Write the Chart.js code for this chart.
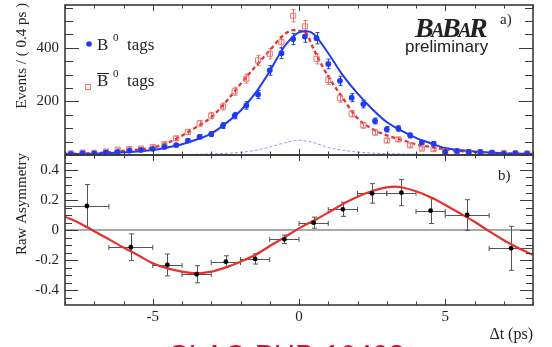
<!DOCTYPE html>
<html><head><meta charset="utf-8">
<script src="https://cdn.jsdelivr.net/npm/chart.js@4.4.0/dist/chart.umd.min.js"></script>
<style>
html,body{margin:0;padding:0;background:#fff;width:552px;height:347px;overflow:hidden;position:relative}
canvas{position:absolute;left:0}
#c1{top:0}
#c2{top:150px}
</style></head><body>
<canvas id="c1" width="552" height="160"></canvas>
<canvas id="c2" width="552" height="197"></canvas>
<script>
// ---------- data ----------
const binCenters = [-7.8,-7.4,-7.0,-6.6,-6.2,-5.8,-5.4,-5.0,-4.6,-4.2,-3.8,-3.4,-3.0,-2.6,-2.2,-1.8,-1.4,-1.0,-0.6,-0.2,0.2,0.6,1.0,1.4,1.8,2.2,2.6,3.0,3.4,3.8,4.2,4.6,5.0,5.4,5.8,6.2,6.6,7.0,7.4,7.8];
const blueTags = [4,7,6,10,12,16,19,23,30,37,54,68,78,110,147,185,226,316,380,433,442,436,340,277,214,190,127,96,99,73,47,42,12,15,12,12,9,5,7,5];
const blueErr  = [2,3,3,3,4,4,4,5,6,6,7,8,9,11,12,14,15,18,20,21,21,21,18,17,15,14,11,10,10,9,7,7,4,4,4,4,3,2,3,2];
const redTags  = [6,9,8,13,20,22,24,30,40,62,86,118,147,181,238,285,353,378,421,520,480,359,280,212,154,111,84,54,58,36,24,22,12,14,11,10,8,8,6,6];
const redErr   = [3,3,3,4,5,5,5,6,6,8,9,11,12,13,15,17,19,19,21,23,22,19,17,15,12,11,9,7,8,6,5,5,4,4,3,3,3,3,3,3];

const blueFitT = [-8,-7,-6,-5,-4.5,-4,-3.5,-3,-2.5,-2,-1.5,-1,-0.5,0,0.25,0.5,1,1.5,2,2.5,3,3.5,4,4.5,5,6,7,8];
const blueFit  = [3,5,10,19,28,40,58,80,118,165,230,313,405,458,462,452,380,297,230,172,123,91,64,44,26,13,7,4];
const redFitT  = [-8,-7,-6,-5,-4.5,-4,-3.5,-3,-2.5,-2,-1.5,-1,-0.5,-0.2,0,0.25,0.5,1,1.5,2,2.5,3,3.5,4,4.5,5,6,7,8];
const redFit   = [4,7,15,28,45,72,105,141,198,265,329,391,450,466,464,454,395,293,212,137,98,73,57,40,30,21,11,6,4];
const bkgT     = [-8,-5,-4,-3,-2,-1.5,-1,-0.5,0,0.5,1,1.5,2,3,4,5,8];
const bkg      = [0,1,2,4,10,17,30,45,55,46,28,18,11,5,3,1,0];

const asymT    = [-7.25,-5.75,-4.5,-3.5,-2.5,-1.5,-0.5,0.5,1.5,2.5,3.5,4.5,5.75,7.25];
const asymHalfW= [0.75,0.75,0.5,0.5,0.5,0.5,0.5,0.5,0.5,0.5,0.5,0.5,0.75,0.75];
const asym     = [0.16,-0.115,-0.233,-0.295,-0.211,-0.193,-0.062,0.049,0.138,0.244,0.249,0.129,0.10,-0.122];
const asymErr  = [0.143,0.089,0.073,0.057,0.039,0.034,0.028,0.037,0.047,0.065,0.087,0.086,0.102,0.147];
const asymFitT = [-8,-7.5,-7,-6.5,-6,-5.5,-5,-4.5,-4,-3.5,-3,-2.5,-2,-1.5,-1,-0.5,0,0.5,1,1.5,2,2.5,3,3.3,3.5,4,4.5,5,5.5,6,6.5,7,7.5,8];
const asymFit  = [0.089,0.045,-0.008,-0.062,-0.117,-0.168,-0.222,-0.256,-0.278,-0.289,-0.278,-0.249,-0.211,-0.167,-0.107,-0.049,0.011,0.062,0.116,0.173,0.222,0.260,0.284,0.289,0.285,0.258,0.218,0.167,0.112,0.055,-0.008,-0.068,-0.120,-0.167];
const zeroLineT = [-8,8];
const zeroLineV = [0,0];

const xTickLabels = [-5,0,5];
const topYTicks = [200,400];
const asymYTicks = [-0.4,-0.2,0,0.2,0.4];

// ---------- styles ----------
const SERIF = "'Liberation Serif','DejaVu Serif',serif";
const SANS = "'Liberation Sans','DejaVu Sans',sans-serif";
const BLUE = '#1f3cf2', RED = '#e8302c', PINK = '#f07272', PURPLE = '#b68be6', INK = '#222';
const OY = 150;

const pts = (xs, ys) => xs.map((x,i)=>({x, y: ys[i]}));

function vErr(ctx, xs, ys, tx, v, e, color, cap){
  ctx.strokeStyle = color; ctx.lineWidth = 1; ctx.beginPath();
  tx.forEach((t,i)=>{
    const px = Math.round(xs.getPixelForValue(t))+0.5;
    const y1 = ys.getPixelForValue(v[i]-e[i]), y2 = ys.getPixelForValue(v[i]+e[i]);
    ctx.moveTo(px,y1); ctx.lineTo(px,y2);
    ctx.moveTo(px-cap,y1); ctx.lineTo(px+cap,y1);
    ctx.moveTo(px-cap,y2); ctx.lineTo(px+cap,y2);
  });
  ctx.stroke();
}

function frame(ctx, a, xs, ys, majors, minors, majLen, minLen){
  ctx.save(); ctx.strokeStyle = '#3a3a3a'; ctx.lineWidth = 1; ctx.beginPath();
  for (let t=-8; t<=8; t++){
    const p = Math.round(xs.getPixelForValue(t))+0.5, len = (t%5===0)?6:3.5;
    ctx.moveTo(p,a.bottom); ctx.lineTo(p,a.bottom-len);
    ctx.moveTo(p,a.top); ctx.lineTo(p,a.top+len);
  }
  minors.forEach(v=>{ const p=Math.round(ys.getPixelForValue(v))+0.5;
    ctx.moveTo(a.left,p); ctx.lineTo(a.left+minLen,p); ctx.moveTo(a.right,p); ctx.lineTo(a.right-minLen,p); });
  majors.forEach(v=>{ const p=Math.round(ys.getPixelForValue(v))+0.5;
    ctx.moveTo(a.left,p); ctx.lineTo(a.left+majLen,p); ctx.moveTo(a.right,p); ctx.lineTo(a.right-majLen,p); });
  ctx.stroke();
  ctx.lineWidth = 1.6; ctx.strokeRect(a.left, a.top, a.right-a.left, a.bottom-a.top);
  ctx.restore();
}

function clipArea(ctx,a){ ctx.beginPath(); ctx.rect(a.left,a.top,a.right-a.left,a.bottom-a.top); ctx.clip(); }

function yTitle(ctx, text, x, yEnd){
  ctx.save(); ctx.translate(x, yEnd); ctx.rotate(-Math.PI/2);
  ctx.font = '15px '+SERIF; ctx.fillStyle = INK; ctx.textAlign='right'; ctx.textBaseline='alphabetic';
  ctx.fillText(text, 0, 0); ctx.restore();
}

Chart.defaults.font.family = SERIF;
Chart.defaults.color = INK;

const topPlugin = {
  id:'topDeco',
  beforeDatasetsDraw(chart){
    const {ctx, chartArea:a, scales:{x,y}} = chart;
    ctx.save(); clipArea(ctx,a);
    vErr(ctx,x,y,binCenters,redTags,redErr,PINK,2);
    vErr(ctx,x,y,binCenters,blueTags,blueErr,BLUE,2);
    ctx.restore();
  },
  afterDraw(chart){
    const {ctx, chartArea:a, scales:{x,y}} = chart;
    const minors=[]; for(let v=50; v<560; v+=50) if (v%200) minors.push(v);
    frame(ctx,a,x,y,[0,200,400],minors,14,8);
    yTitle(ctx,'Events / ( 0.4 ps )',26,3);
    ctx.save();
    ctx.fillStyle = INK;
    // legend
    ctx.fillStyle = BLUE; ctx.beginPath(); ctx.arc(89,44,2.8,0,Math.PI*2); ctx.fill();
    ctx.strokeStyle = PINK; ctx.lineWidth=1; ctx.strokeRect(85.5,84.5,5,5);
    ctx.fillStyle = INK; ctx.textBaseline='alphabetic'; ctx.textAlign='left';
    ctx.font = '17px '+SERIF;
    ctx.fillText('B',97,50); ctx.fillText('tags',127,50);
    ctx.fillText('B',97,86); ctx.fillText('tags',127,86);
    ctx.font = '11px '+SERIF;
    ctx.fillText('0',113,41); ctx.fillText('0',113,77);
    ctx.strokeStyle = INK; ctx.lineWidth = 1; ctx.beginPath(); ctx.moveTo(97,73.5); ctx.lineTo(109,73.5); ctx.stroke();
    // BaBar logo
    const parts = [['B',28],['A',20],['B',28],['A',20],['R',28]];
    let px = 415;
    parts.forEach(([c,s])=>{ ctx.font = 'italic bold '+s+'px '+SERIF; ctx.fillText(c,px,37); px += ctx.measureText(c).width - 2.5; });
    ctx.font = '17px '+SANS; ctx.fillText('preliminary',405,52);
    ctx.font = '15px '+SERIF; ctx.fillText('a)',500,24);
    ctx.restore();
  }
};

const botPlugin = {
  id:'botDeco',
  beforeDatasetsDraw(chart){
    const {ctx, chartArea:a, scales:{x,y}} = chart;
    ctx.save(); clipArea(ctx,a);
    ctx.strokeStyle = '#555'; ctx.lineWidth = 1; ctx.beginPath();
    asymT.forEach((t,i)=>{
      const px = x.getPixelForValue(t), py = Math.round(y.getPixelForValue(asym[i]))+0.5;
      const x1 = x.getPixelForValue(t-asymHalfW[i]), x2 = x.getPixelForValue(t+asymHalfW[i]);
      const y1 = y.getPixelForValue(asym[i]-asymErr[i]), y2 = y.getPixelForValue(asym[i]+asymErr[i]);
      const pxr = Math.round(px)+0.5;
      ctx.moveTo(x1,py); ctx.lineTo(x2,py);
      ctx.moveTo(x1,py-2.5); ctx.lineTo(x1,py+2.5); ctx.moveTo(x2,py-2.5); ctx.lineTo(x2,py+2.5);
      ctx.moveTo(pxr,y1); ctx.lineTo(pxr,y2);
      ctx.moveTo(pxr-2.5,y1); ctx.lineTo(pxr+2.5,y1); ctx.moveTo(pxr-2.5,y2); ctx.lineTo(pxr+2.5,y2);
    });
    ctx.stroke(); ctx.restore();
  },
  afterDraw(chart){
    const {ctx, chartArea:a, scales:{x,y}} = chart;
    const minors=[]; for(let k=-9; k<=9; k++) if (k%4) minors.push(k*0.05);
    frame(ctx,a,x,y,asymYTicks,minors,13,7);
    yTitle(ctx,'Raw Asymmetry',26,153-OY);
    ctx.save(); ctx.fillStyle = INK; ctx.textBaseline='alphabetic';
    ctx.font = '16px '+SERIF; ctx.textAlign='right'; ctx.fillText('\u0394t (ps)',533,339-OY);
    ctx.textAlign='left'; ctx.font='15px '+SERIF; ctx.fillText('b)',498,180-OY);
    ctx.fillStyle = '#c0183c'; ctx.font = '29px '+SANS; ctx.textAlign='center';
    ctx.fillText('SLAC-PUB-10498',287,365-OY);
    ctx.restore();
  }
};

const yTickFont = {size:15, family:SERIF};

new Chart(document.getElementById('c1'), {
  type:'scatter',
  data:{datasets:[
    {data:pts(binCenters,blueTags), pointStyle:'circle', pointRadius:2.9, backgroundColor:BLUE, borderColor:BLUE, borderWidth:0},
    {data:pts(binCenters,redTags), pointStyle:'rect', pointRadius:3.6, backgroundColor:'rgba(255,255,255,0)', borderColor:PINK, borderWidth:1},
    {data:pts(blueFitT,blueFit), showLine:true, borderColor:BLUE, borderWidth:2, pointRadius:0, cubicInterpolationMode:'monotone'},
    {data:pts(redFitT,redFit), showLine:true, borderColor:RED, borderWidth:2.3, borderDash:[4,3], pointRadius:0, cubicInterpolationMode:'monotone'},
    {data:pts(bkgT,bkg), showLine:true, borderColor:PURPLE, borderWidth:1, borderDash:[3,2], pointRadius:0, cubicInterpolationMode:'monotone'}
  ]},
  options:{
    responsive:false, devicePixelRatio:1, animation:false, events:[],
    layout:{padding:{left:0,right:19,top:5,bottom:5}},
    plugins:{legend:{display:false}, tooltip:{enabled:false}},
    scales:{
      x:{type:'linear', min:-8, max:8, display:false},
      y:{type:'linear', min:0, max:560, grid:{display:false, drawTicks:false}, border:{display:false},
         ticks:{padding:6, font:yTickFont, color:INK},
         afterBuildTicks:s=>{ s.ticks = topYTicks.map(v=>({value:v})); },
         afterFit:s=>{ s.width = 65; s.paddingTop = 0; s.paddingBottom = 0; }}
    }
  },
  plugins:[topPlugin]
});

new Chart(document.getElementById('c2'), {
  type:'scatter',
  data:{datasets:[
    {data:pts(asymT,asym), pointStyle:'circle', pointRadius:2.4, backgroundColor:'#000', borderColor:'#000', borderWidth:0},
    {data:pts(asymFitT,asymFit), showLine:true, borderColor:RED, borderWidth:2.2, pointRadius:0, cubicInterpolationMode:'monotone'},
    {data:pts(zeroLineT,zeroLineV), showLine:true, borderColor:'#555', borderWidth:1.2, pointRadius:0}
  ]},
  options:{
    responsive:false, devicePixelRatio:1, animation:false, events:[],
    layout:{padding:{left:0,right:19,top:5,bottom:0}},
    plugins:{legend:{display:false}, tooltip:{enabled:false}},
    scales:{
      x:{type:'linear', min:-8, max:8, grid:{display:false, drawTicks:false}, border:{display:false},
         ticks:{padding:3, font:{size:15, family:SERIF}, color:INK, callback:v=>String(v)},
         afterBuildTicks:s=>{ s.ticks = xTickLabels.map(v=>({value:v})); },
         afterFit:s=>{ s.height = 42; s.paddingLeft = 0; s.paddingRight = 0; }},
      y:{type:'linear', min:-0.5, max:0.5, grid:{display:false, drawTicks:false}, border:{display:false},
         ticks:{padding:6, font:yTickFont, color:INK, callback:v=> v===0 ? '0' : v.toFixed(1)},
         afterBuildTicks:s=>{ s.ticks = asymYTicks.map(v=>({value:v})); },
         afterFit:s=>{ s.width = 65; s.paddingTop = 0; s.paddingBottom = 0; }}
    }
  },
  plugins:[botPlugin]
});
</script>
</body></html>
